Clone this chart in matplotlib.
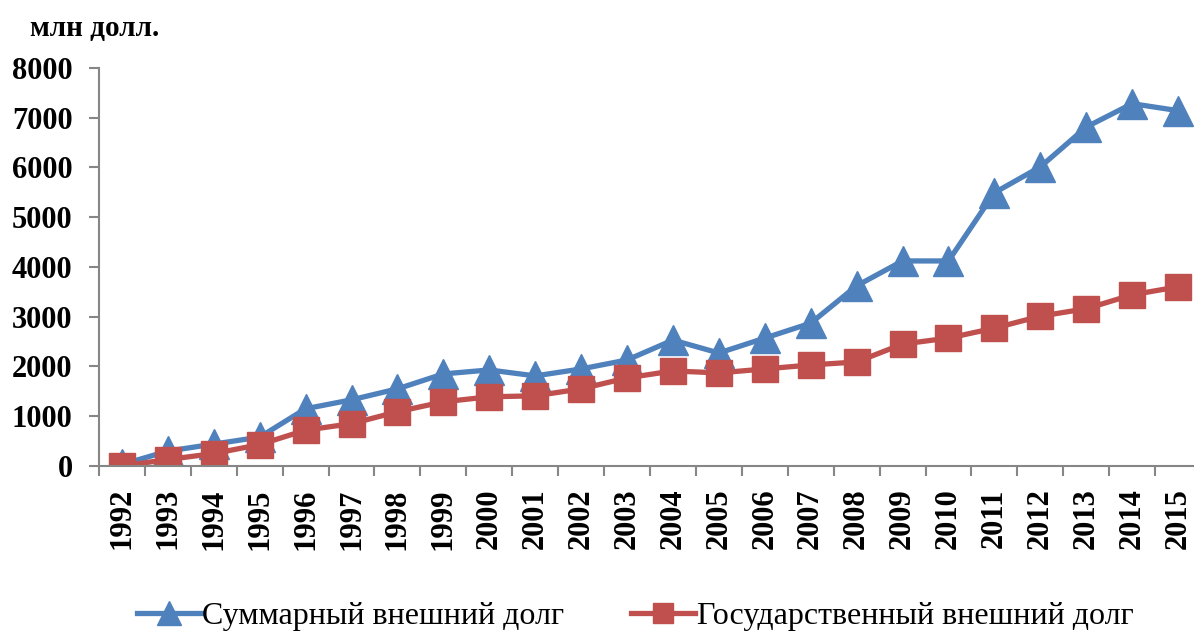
import matplotlib.pyplot as plt
import numpy as np

years = [str(y) for y in range(1992, 2016)]
total_debt = [30, 300, 440, 580, 1150, 1330, 1550, 1850, 1930, 1810, 1950, 2130,
              2530, 2270, 2570, 2870, 3620, 4120, 4120, 5490, 6010, 6810, 7280, 7140]
gov_debt = [0, 130, 250, 430, 720, 850, 1090, 1290, 1390, 1410, 1550, 1770,
            1910, 1870, 1950, 2030, 2090, 2450, 2570, 2770, 3010, 3160, 3440, 3600]
labels = ['Суммарный внешний долг', 'Государственный внешний долг']

blue = '#4F81BD'
red = '#C0504D'
axis_gray = '#868686'

plt.rcParams['font.family'] = ['Liberation Serif', 'DejaVu Serif']

fig = plt.figure(figsize=(11.94, 6.34), dpi=100)
ax = fig.add_axes([0.0829, 0.265, 0.923, 0.628])

x = np.arange(len(years))
ax.plot(x, total_debt, color=blue, lw=3.8, marker='^', markersize=21,
        label=labels[0], zorder=3)
ax.plot(x, gov_debt, color=red, lw=3.8, marker='s', markersize=18.5,
        label=labels[1], zorder=3)

ax.set_xlim(-0.5, len(years) - 0.5)
ax.set_ylim(0, 8000)
ax.set_yticks(range(0, 8001, 1000))
ax.set_xticks(x)
ax.set_xticklabels(years, rotation=90, fontweight='bold', fontsize=22)
ax.set_xticks(np.arange(-0.5, len(years), 1), minor=True)
ax.tick_params(axis='x', which='major', length=0, pad=16)
ax.tick_params(axis='x', which='minor', length=7, width=1.5, color=axis_gray)
ax.tick_params(axis='y', length=7, width=1.5, color=axis_gray, pad=12, labelsize=22)
for lab in ax.get_yticklabels():
    lab.set_fontweight('bold')

for side in ['top', 'right']:
    ax.spines[side].set_visible(False)
for side in ['left', 'bottom']:
    ax.spines[side].set_color(axis_gray)
    ax.spines[side].set_linewidth(1.5)
ax.spines['left'].set_zorder(4)
ax.spines['bottom'].set_zorder(4)

fig.text(0.025, 0.955, 'млн долл.', fontsize=21, fontweight='bold', va='center')

fig.legend(loc='center', bbox_to_anchor=(0.532, 0.028), ncol=2, frameon=False,
           fontsize=23, handlelength=2.0, columnspacing=2.1, handletextpad=0.05,
           markerscale=0.8, borderpad=0)

fig.savefig('out.png', dpi=100)
